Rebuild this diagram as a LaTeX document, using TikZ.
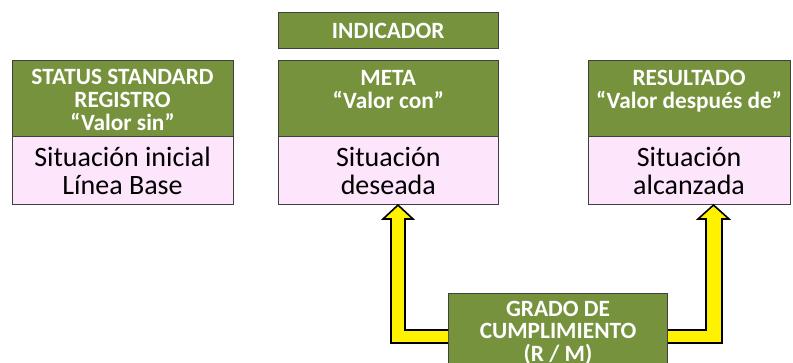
\documentclass[tikz,border=0pt]{standalone}
\usepackage{fontspec}
\setmainfont{Carlito}
\usetikzlibrary{calc}
\definecolor{hdgreen}{HTML}{76923C}
\definecolor{bodypink}{HTML}{FDE5FC}
\definecolor{boxline}{HTML}{404040}
\tikzset{
  hdbox/.style={draw=boxline, line width=0.8pt, fill=hdgreen, inner sep=0pt},
  bodybox/.style={draw=boxline, line width=0.8pt, fill=bodypink, inner sep=0pt,
     align=center, font=\fontsize{21}{21}\selectfont, text=black},
  hdtext/.style={align=center, text=white, font=\bfseries\fontsize{17.5}{17.3}\selectfont, inner sep=0pt},
  yarrow/.style={fill=yellow, draw=black, line width=1.2pt, line join=miter}
}
\begin{document}
\begin{tikzpicture}[x=0.75pt,y=-0.75pt]
\useasboundingbox (0,0) rectangle (793,363);
\clip (0,0) rectangle (793,363);
% INDICADOR
\node[hdbox, minimum width=220.5*0.75pt, minimum height=36*0.75pt, anchor=north west,
      font=\bfseries\fontsize{17.5}{17.3}\selectfont, text=white] (ind) at (277.5,12) {INDICADOR};
% left column
\node[hdbox, minimum width=221*0.75pt, minimum height=76*0.75pt, anchor=north west] (stH) at (11.5,60) {};
\node[hdtext, anchor=north] (stT) at ($(stH.north)+(0,9)$) {STATUS STANDARD\\REGISTRO\\“Valor sin”};
\node[bodybox, minimum width=221*0.75pt, minimum height=68*0.75pt, anchor=north west] (stB) at (11.5,136) {Situación inicial\\Línea Base};
% middle column
\node[hdbox, minimum width=220.5*0.75pt, minimum height=76*0.75pt, anchor=north west] (meH) at (277.5,60) {};
\node[hdtext, anchor=north] (meT) at ($(meH.north)+(0,10)$) {META\\“Valor con”};
\node[bodybox, minimum width=220.5*0.75pt, minimum height=68*0.75pt, anchor=north west] (meB) at (277.5,136) {Situación\\deseada};
% right column
\node[hdbox, minimum width=202*0.75pt, minimum height=76*0.75pt, anchor=north west] (reH) at (587.5,60) {};
\node[hdtext, anchor=north] (reT) at ($(reH.north)+(0,10)$) {RESULTADO\\“Valor después de”};
\node[bodybox, minimum width=202*0.75pt, minimum height=68*0.75pt, anchor=north west] (reB) at (587.5,136) {Situación\\alcanzada};
% GRADO
\node[hdbox, minimum width=219*0.75pt, minimum height=90*0.75pt, anchor=north west] (gr) at (448,293) {};
\node[hdtext, anchor=north, font=\bfseries\fontsize{17.5}{16.8}\selectfont] (grT) at ($(gr.north)+(0,8)$) {GRADO DE\\CUMPLIMIENTO\\(R / M)};
% arrows
\draw[yarrow] (gr.west |- 0,330) -- (405,330) -- (405,219) -- (413,219)
   -- (398,0 |- meB.south) -- (383,219) -- (391,219) -- (391,343) -- (gr.west |- 0,343);
\draw[yarrow] (gr.east |- 0,330) -- (706,330) -- (706,219) -- (698,219)
   -- (713.5,0 |- reB.south) -- (729,219) -- (722,219) -- (722,343) -- (gr.east |- 0,343);
\end{tikzpicture}
\end{document}
